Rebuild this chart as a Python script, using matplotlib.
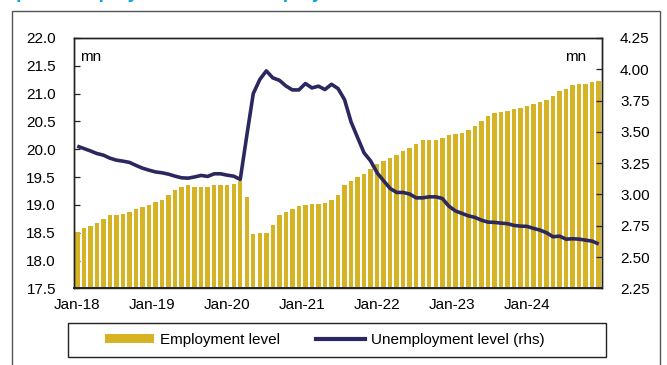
import numpy as np
import pandas as pd
import matplotlib
matplotlib.use("Agg")
import matplotlib.pyplot as plt
from matplotlib.patches import Patch, Rectangle
from matplotlib.lines import Line2D
from matplotlib.ticker import FormatStrFormatter, MultipleLocator
import matplotlib.transforms as mtransforms

plt.rcParams['font.family'] = ['Liberation Sans', 'DejaVu Sans']

# Monthly series, Jan-2018 .. Sep-2024 (millions)
months = pd.date_range("2018-01-01", periods=81, freq="MS")

employment = [
    18.51, 18.58, 18.62, 18.68, 18.75, 18.81, 18.82, 18.83, 18.87, 18.93, 18.96, 19.00,
    19.05, 19.09, 19.17, 19.26, 19.32, 19.35, 19.33, 19.32, 19.33, 19.35, 19.36, 19.36,
    19.38, 19.43, 19.15, 18.48, 18.49, 18.50, 18.63, 18.81, 18.88, 18.92, 18.98, 18.99,
    19.02, 19.02, 19.04, 19.09, 19.17, 19.36, 19.43, 19.50, 19.56, 19.65, 19.73, 19.79,
    19.85, 19.90, 19.96, 20.02, 20.10, 20.16, 20.16, 20.17, 20.20, 20.25, 20.28, 20.30,
    20.34, 20.41, 20.51, 20.60, 20.65, 20.67, 20.69, 20.72, 20.75, 20.78, 20.81, 20.85,
    20.89, 20.96, 21.04, 21.08, 21.15, 21.17, 21.18, 21.21, 21.23,
]

unemployment = [
    3.386, 3.367, 3.348, 3.327, 3.314, 3.290, 3.274, 3.266, 3.256, 3.232, 3.210, 3.194,
    3.180, 3.173, 3.162, 3.146, 3.133, 3.130, 3.140, 3.152, 3.144, 3.165, 3.165, 3.154,
    3.146, 3.120, 3.468, 3.806, 3.918, 3.987, 3.931, 3.912, 3.867, 3.835, 3.835, 3.886,
    3.851, 3.865, 3.838, 3.880, 3.846, 3.758, 3.580, 3.455, 3.332, 3.268, 3.173, 3.109,
    3.048, 3.016, 3.016, 3.003, 2.973, 2.973, 2.981, 2.981, 2.968, 2.907, 2.869, 2.849,
    2.829, 2.817, 2.795, 2.779, 2.777, 2.771, 2.766, 2.753, 2.747, 2.745, 2.729, 2.715,
    2.694, 2.662, 2.667, 2.643, 2.646, 2.643, 2.635, 2.627, 2.604,
]

year_labels = ["Jan-18", "Jan-19", "Jan-20", "Jan-21", "Jan-22", "Jan-23", "Jan-24"]

GOLD = "#D6B324"
NAVY = "#2B285F"
TITLE_BLUE = "#0AA3E3"

fig = plt.figure(figsize=(6.67, 3.65), dpi=100)
ax = fig.add_axes([0.111, 0.210, 0.7915, 0.686])

x = np.arange(len(months))
ax.bar(x, employment, width=0.68, color=GOLD, zorder=2)
ax.set_xlim(-0.5, len(months) - 0.5)
ax.set_ylim(17.5, 22.0)
ax.yaxis.set_major_locator(MultipleLocator(0.5))
ax.yaxis.set_major_formatter(FormatStrFormatter("%.1f"))

ax2 = ax.twinx()
ax2.plot(x, unemployment, color=NAVY, lw=2.6, solid_capstyle="butt", zorder=3)
ax2.set_ylim(2.25, 4.25)
ax2.yaxis.set_major_locator(MultipleLocator(0.25))
ax2.yaxis.set_major_formatter(FormatStrFormatter("%.2f"))

ax.set_xticks(np.linspace(0, 69, len(year_labels)))
ax.set_xticklabels(year_labels)

for a in (ax, ax2):
    for s in a.spines.values():
        s.set_color("#222222")
        s.set_linewidth(1.0)
ax.spines["bottom"].set_linewidth(1.4)

ax.tick_params(axis="y", direction="in", length=4, width=0.9, pad=13,
               labelsize=11, colors="#222222", labelcolor="black")
ax2.tick_params(axis="y", direction="in", length=4, width=0.9, pad=13,
                labelsize=11, colors="#222222", labelcolor="black")
ax.tick_params(axis="x", length=0, pad=7, labelsize=11)

ax.text(0.012, 0.95, "mn", transform=ax.transAxes, fontsize=11, va="top", ha="left")
ax.text(0.97, 0.95, "mn", transform=ax.transAxes, fontsize=11, va="top", ha="right")

# Outer frame of the chart panel
fig.patches.append(Rectangle((12 / 667, -0.02), 648 / 667, 1.02 - 11 / 365 + 0.0,
                             transform=fig.transFigure, fill=False,
                             edgecolor="#555555", linewidth=1.0))

# Legend with a wide box
fig.patches.append(Rectangle((68 / 667, 1 - 357 / 365), 538 / 667, 34 / 365,
                             transform=fig.transFigure, fill=False,
                             edgecolor="#222222", linewidth=1.0))
handles = [Patch(facecolor=GOLD, edgecolor="none"),
           Line2D([0], [0], color=NAVY, lw=3)]
fig.legend(handles, ["Employment level", "Unemployment level (rhs)"],
           loc="center", bbox_to_anchor=(0.487, 1 - 340 / 365), ncol=2,
           frameon=False, fontsize=11, handlelength=3.2, handleheight=0.55,
           handletextpad=0.35, columnspacing=2.4)

# Heading sits above the panel, only its lower edge shows
off = mtransforms.offset_copy(fig.transFigure, fig=fig, x=0, y=1.5, units="dots")
fig.text(0.005, 1.0, "Spain: Employment and unemployment", transform=off,
         fontsize=14, fontweight="bold", color=TITLE_BLUE, va="baseline", ha="left")

fig.savefig("out.png", dpi=100)
